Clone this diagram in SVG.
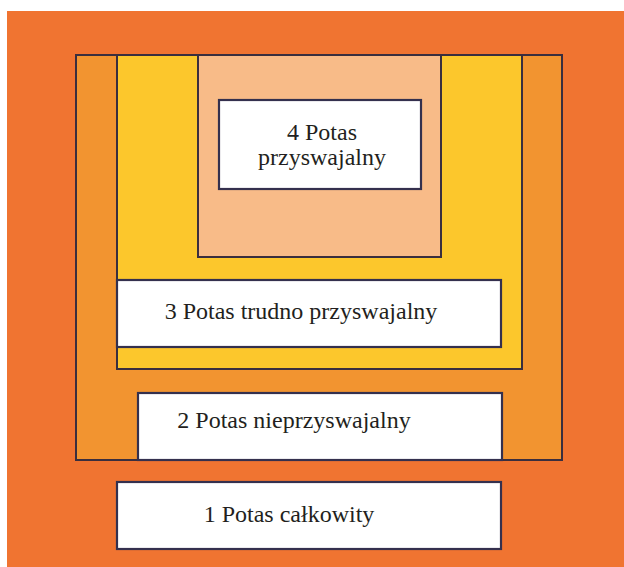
<svg xmlns="http://www.w3.org/2000/svg" width="624" height="567" viewBox="0 0 624 567">
<style>
.frame{stroke:#3a2e3e;stroke-width:2}
.box{fill:#ffffff;stroke:#34304e;stroke-width:2.2}
.lbl{font-family:'Liberation Serif','Times New Roman',serif;font-size:24px;fill:#231f20;text-anchor:middle}
</style>
<rect x="0" y="0" width="624" height="567" fill="#ffffff"/>
<rect id="bg" x="7" y="11" width="617" height="556" fill="#f07431"/>
<g id="level2">
<rect class="frame" x="76" y="55" width="486" height="405" fill="#f29430"/>
</g>
<g id="level3">
<rect class="frame" x="117" y="55" width="405" height="314" fill="#fcc72c"/>
</g>
<g id="level4">
<rect class="frame" x="198" y="55" width="243" height="202" fill="#f8bb88"/>
</g>
<g id="node4">
<rect class="box" x="219" y="100" width="202" height="89"/>
<text class="lbl" x="322" y="140">4 Potas</text>
<text class="lbl" x="322" y="165">przyswajalny</text>
</g>
<g id="node3">
<rect class="box" x="117" y="280" width="384" height="67"/>
<text class="lbl" x="301" y="319">3 Potas trudno przyswajalny</text>
</g>
<g id="node2">
<rect class="box" x="138" y="393" width="364" height="67"/>
<text class="lbl" x="294" y="428">2 Potas nieprzyswajalny</text>
</g>
<g id="node1">
<rect class="box" x="117" y="482" width="384" height="67"/>
<text class="lbl" x="289" y="522">1 Potas całkowity</text>
</g>
<g id="connectors"></g>
</svg>
